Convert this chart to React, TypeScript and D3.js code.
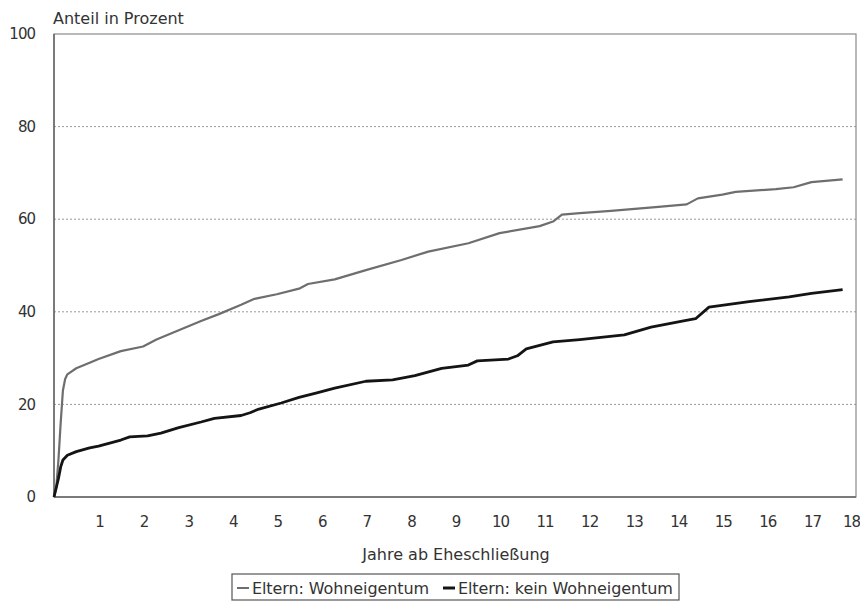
import * as d3 from "d3";

// Jahre ab Eheschließung (Stützstellen) und Anteil in Prozent
const yearsOwn = [0, 0.05, 0.1, 0.15, 0.2, 0.25, 0.3, 0.5, 0.8, 1.0, 1.5, 2.0, 2.3, 2.8, 3.3, 3.7, 4.2, 4.5, 5.0, 5.5, 5.7, 6.3, 7.0, 7.8, 8.4, 9.3, 10.0, 10.9, 11.2, 11.4, 11.8, 12.5, 13.1, 13.5, 14.2, 14.45, 15.0, 15.3, 16.2, 16.6, 17.0, 17.7];
const valuesOwn = [0, 2, 8, 16, 23, 25.5, 26.5, 27.8, 29, 29.8, 31.5, 32.5, 34, 36, 38, 39.5, 41.5, 42.8, 43.8, 45, 46, 47, 49, 51.2, 53, 54.8, 57, 58.5, 59.5, 61, 61.3, 61.8, 62.3, 62.6, 63.2, 64.5, 65.3, 65.9, 66.5, 66.9, 68, 68.6];

const yearsNoOwn = [0, 0.05, 0.1, 0.15, 0.2, 0.3, 0.5, 0.8, 1.0, 1.5, 1.7, 2.1, 2.4, 2.8, 3.3, 3.6, 4.2, 4.4, 4.6, 5.1, 5.5, 5.9, 6.3, 7.0, 7.6, 8.1, 8.7, 9.3, 9.5, 10.2, 10.4, 10.6, 11.2, 11.8, 12.8, 13.4, 14.1, 14.4, 14.7, 15.6, 16.5, 17.0, 17.7];
const valuesNoOwn = [0, 2, 4, 6.5, 8, 9, 9.8, 10.6, 11, 12.3, 13, 13.2, 13.8, 15, 16.2, 17, 17.6, 18.2, 19, 20.3, 21.5, 22.5, 23.5, 25, 25.3, 26.2, 27.8, 28.5, 29.4, 29.8, 30.5, 32, 33.5, 34, 35, 36.7, 38, 38.5, 41, 42.2, 43.2, 44, 44.8];

const yTicks = [0, 20, 40, 60, 80, 100];
const xTicks = d3.range(1, 19);
const seriesNames = ["Eltern: Wohneigentum", "Eltern: kein Wohneigentum"];

const W = 860;
const H = 604;
const left = 54;
const right = 856;
const top = 34;
const bottom = 497;
const font = "'DejaVu Sans', 'Liberation Sans', Arial, sans-serif";
const fs = 15;
const fsText = 16;

export default function App() {
  const x = d3.scaleLinear().domain([0, 18]).range([left, right]);
  const y = d3.scaleLinear().domain([0, 100]).range([bottom, top]);

  const line = d3
    .line<[number, number]>()
    .x((d) => x(d[0]))
    .y((d) => y(d[1]));

  const own = yearsOwn.map((t, i) => [t, valuesOwn[i]] as [number, number]);
  const noOwn = yearsNoOwn.map((t, i) => [t, valuesNoOwn[i]] as [number, number]);

  const colors = ["#6e6e6e", "#141414"];
  const widths = [2.2, 2.8];

  return (
    <svg
      width={W}
      height={H}
      style={{ position: "absolute", left: 0, top: 0, background: "#fff" }}
      fontFamily={font}
    >
      {/* Hilfslinien */}
      {yTicks
        .filter((t) => t > 0 && t < 100)
        .map((t) => (
          <line
            key={"g" + t}
            x1={left}
            x2={right}
            y1={y(t)}
            y2={y(t)}
            stroke="#9a9a9a"
            strokeWidth={1}
            strokeDasharray="2,2"
          />
        ))}

      {/* Rahmen */}
      <rect
        x={left}
        y={top}
        width={right - left}
        height={bottom - top}
        fill="none"
        stroke="#8a8a8a"
        strokeWidth={1.2}
      />
      <line x1={left} x2={left} y1={top} y2={bottom} stroke="#666" strokeWidth={1.5} />
      <line x1={left} x2={right} y1={bottom} y2={bottom} stroke="#666" strokeWidth={1.5} />

      {/* y-Achse */}
      {yTicks.map((t) => (
        <text
          key={"y" + t}
          x={35}
          y={y(t)}
          dy="0.35em"
          textAnchor="end"
          fontSize={fs}
          letterSpacing={-1}
          fill="#333"
        >
          {t}
        </text>
      ))}

      {/* x-Achse */}
      {xTicks.map((t) => {
        const last = t === 18;
        return (
          <text
            key={"x" + t}
            x={last ? 860 : x(t) + 1}
            y={522}
            dy="0.35em"
            textAnchor={last ? "end" : "middle"}
            fontSize={fs}
            letterSpacing={-1}
            fill="#333"
          >
            {t}
          </text>
        );
      })}

      <text x={53} y={24} fontSize={fsText} fill="#333">
        Anteil in Prozent
      </text>
      <text x={456} y={554} dy="0.35em" textAnchor="middle" fontSize={fsText} fill="#333">
        Jahre ab Eheschließung
      </text>

      {/* Kurven */}
      <path d={line(own) || ""} fill="none" stroke={colors[0]} strokeWidth={widths[0]} strokeLinejoin="round" />
      <path d={line(noOwn) || ""} fill="none" stroke={colors[1]} strokeWidth={widths[1]} strokeLinejoin="round" />

      {/* Legende */}
      <rect x={232} y={574} width={447} height={26} fill="#fff" stroke="#555" strokeWidth={1.2} />
      {seriesNames.map((name, i) => {
        const lx = i === 0 ? 237 : 443;
        return (
          <g key={name}>
            <line x1={lx} x2={lx + 12} y1={588} y2={588} stroke={colors[i]} strokeWidth={i === 0 ? 2 : 3} />
            <text x={lx + 15} y={588} dy="0.35em" fontSize={fsText} letterSpacing={-0.1} fill="#333">
              {name}
            </text>
          </g>
        );
      })}
    </svg>
  );
}
